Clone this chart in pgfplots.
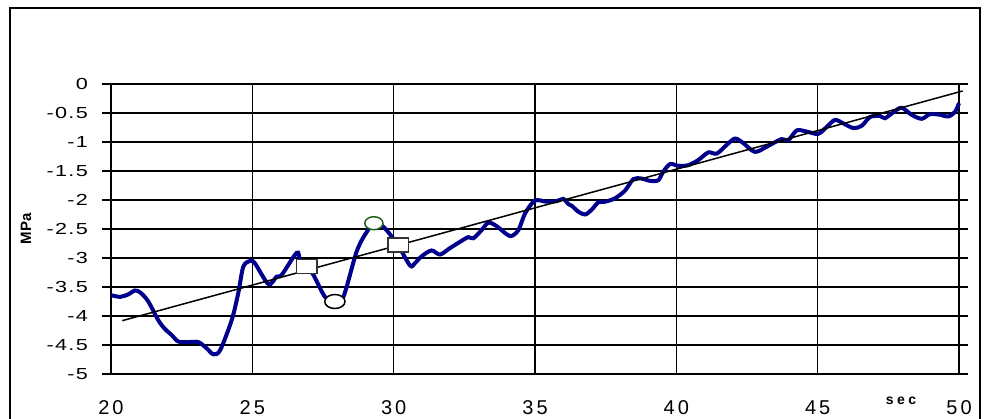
\documentclass[border=0pt]{standalone}
\usepackage{pgfplots}
\pgfplotsset{compat=1.18}
\usepackage{fontspec}
\setmainfont{Liberation Sans}
\newfontfamily\yfont[LetterSpace=8, FakeStretch=1.35]{Liberation Sans}
\newfontfamily\xfont[LetterSpace=15]{Liberation Sans}
\newfontfamily\lblfont[LetterSpace=25]{Liberation Sans}
\definecolor{navy}{RGB}{0,0,140}
\definecolor{dgreen}{RGB}{30,95,30}
\begin{document}
\begin{tikzpicture}
\path[use as bounding box] (-111pt,-44pt) rectangle (879pt,374pt);
\begin{axis}[
  at={(0pt,0pt)}, anchor=south west,
  scale only axis, width=848pt, height=290pt,
  xmin=20, xmax=50, ymin=-5, ymax=0,
  clip=false,
  axis line style={draw=none},
  xtick={20,25,30,35,40,45}, extra x ticks={50},
  extra x tick style={grid style={gray!70, line width=1.5pt}},
  ytick={-4.5,-4,...,0}, extra y ticks={-5},
  extra y tick style={grid style={gray!70, line width=1.5pt}, ytick style={black, line width=1.5pt}},
  yticklabels={-4.5,-4,-3.5,-3,-2.5,-2,-1.5,-1,-0.5,0},
  extra y tick labels={-5},
  grid=major,
  major grid style={black, line width=1.5pt},
  xtick style={draw=none},
  ytick style={black, line width=1.5pt},
  tick align=outside, major tick length=9pt,
  /pgf/number format/assume math mode=true,
  yticklabel style={font=\fontsize{16}{16}\selectfont\yfont, anchor=east, inner sep=0pt, xshift=-14pt},
  xticklabel style={font=\fontsize{20}{20}\selectfont\xfont, anchor=base, inner sep=0pt, yshift=-31pt},
  xticklabels={20,25,30,35,40,45}, extra x tick labels={50},
]
\addplot[navy, line width=4pt, smooth, tension=0.5] coordinates {
(20.0,-3.64) (20.32,-3.67) (20.6,-3.63) (20.85,-3.56) (21.05,-3.60) (21.32,-3.75)
(21.67,-4.07) (21.9,-4.22) (22.15,-4.33) (22.38,-4.44) (22.7,-4.45) (23.09,-4.45)
(23.39,-4.56) (23.62,-4.66) (23.86,-4.59) (24.27,-4.07) (24.50,-3.61) (24.68,-3.15)
(24.92,-3.05) (25.09,-3.09) (25.57,-3.45) (25.86,-3.32) (26.04,-3.29) (26.57,-2.91)
(26.69,-3.03) (26.92,-3.15) (27.16,-3.29) (27.57,-3.67) (27.92,-3.75) (28.22,-3.67)
(28.63,-2.98) (28.81,-2.75) (29.05,-2.55) (29.30,-2.40) (29.63,-2.46) (29.93,-2.63)
(30.16,-2.78) (30.58,-3.13) (30.75,-3.09) (30.99,-2.97) (31.34,-2.87) (31.64,-2.94)
(31.99,-2.83) (32.35,-2.72) (32.64,-2.64) (32.82,-2.66) (33.11,-2.52) (33.35,-2.39)
(33.64,-2.45) (34.11,-2.62) (34.41,-2.52) (34.65,-2.23) (35.0,-2.01) (35.41,-2.03)
(35.77,-2.02) (36.0,-1.98) (36.18,-2.07) (36.30,-2.10) (36.53,-2.20) (36.77,-2.25)
(37.0,-2.17) (37.24,-2.04) (37.48,-2.03) (37.83,-1.97) (38.18,-1.84) (38.48,-1.64)
(38.77,-1.63) (39.07,-1.67) (39.36,-1.66) (39.54,-1.51) (39.78,-1.38) (40.07,-1.41)
(40.42,-1.40) (40.78,-1.31) (41.13,-1.18) (41.43,-1.20) (41.78,-1.05) (42.08,-0.94)
(42.37,-1.02) (42.78,-1.17) (43.20,-1.08) (43.72,-0.95) (43.96,-0.97) (44.26,-0.80)
(44.61,-0.82) (45.02,-0.86) (45.32,-0.74) (45.61,-0.62) (45.91,-0.68) (46.26,-0.76)
(46.56,-0.72) (46.85,-0.57) (47.20,-0.55) (47.38,-0.59) (47.67,-0.49) (47.97,-0.41)
(48.32,-0.53) (48.68,-0.60) (48.97,-0.52) (49.33,-0.53) (49.62,-0.56) (49.86,-0.48)
(50.0,-0.33)
};
\addplot[only marks, mark=square*, mark size=7pt, mark options={xscale=1.45, fill=white, draw=black!80, line width=1.5pt}] coordinates {(26.92,-3.15) (30.16,-2.78)};
\addplot[only marks, mark=*, mark size=7pt, mark options={xscale=1.45, fill=white, draw=black, line width=1.5pt}] coordinates {(27.92,-3.75)};
\addplot[only marks, mark=*, mark size=6.5pt, mark options={xscale=1.4, fill=white, draw=dgreen, line width=1.5pt}] coordinates {(29.30,-2.40)};
\addplot[black, line width=1.5pt] coordinates {(20.4,-4.08) (50.13,-0.12)};
\end{axis}
\draw[line width=2pt] (-101pt,-60pt) rectangle (869pt,366pt);
\node[rotate=90, font=\fontsize{15}{15}\selectfont\bfseries] at (-85pt,145pt) {MPa};
\node[font=\fontsize{14}{14}\selectfont\bfseries\lblfont] at (790pt,-27pt) {sec};
\end{tikzpicture}
\end{document}
